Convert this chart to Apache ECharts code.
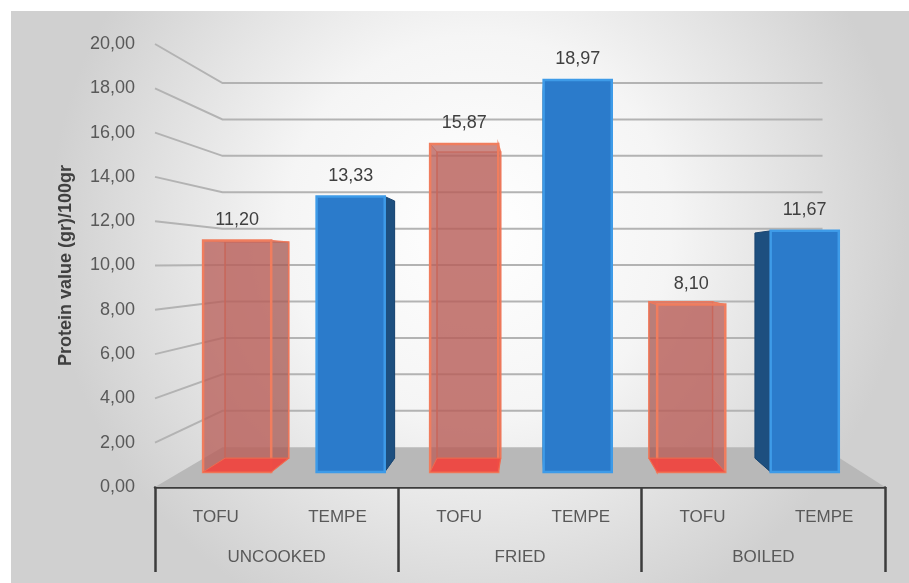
<!DOCTYPE html>
<html>
<head>
<meta charset="utf-8">
<script src="https://cdn.jsdelivr.net/npm/echarts@6/dist/echarts.min.js"></script>
<style>
  html, body { margin: 0; padding: 0; background: #ffffff; }
  #chart { width: 909px; height: 583px; }
</style>
</head>
<body>
<div id="chart"></div>
<script>
// Protein content of tofu and tempe by cooking method
const groups = ['UNCOOKED', 'FRIED', 'BOILED'];
const categories = ['TOFU', 'TEMPE', 'TOFU', 'TEMPE', 'TOFU', 'TEMPE'];
const tofuValues = [11.20, 15.87, 8.10];
const tempeValues = [13.33, 18.97, 11.67];
const yTicks = [0, 2, 4, 6, 8, 10, 12, 14, 16, 18, 20];

const FONT = 'Liberation Sans, Arial, sans-serif';
const fmt = v => v.toFixed(2).replace('.', ',');

// perspective depth factors (1 = front plane)
const S_WALL = 0.822;
const S_BAR_FRONT = 0.933;
const S_BAR_BACK = 0.871;

function vanish(cs) {
  return [cs.x + cs.width / 2 + 14, cs.y + cs.height * 0.495];
}
function proj(vp, x, y, s) {
  return [vp[0] + s * (x - vp[0]), vp[1] + s * (y - vp[1])];
}

// floor and left wall grid lines
function renderWall(params, api) {
  const cs = params.coordSys;
  const vp = vanish(cs);
  const v = api.value(0);
  const y = api.coord([0, v])[1];
  const xl = cs.x, xr = cs.x + cs.width;
  const children = [];
  if (v === 0) {
    children.push({
      type: 'polygon',
      shape: { points: [[xl, y], [xr, y], proj(vp, xr, y, S_WALL), proj(vp, xl, y, S_WALL)] },
      style: { fill: '#b8b8b8' }
    });
  } else {
    children.push({
      type: 'polyline',
      shape: { points: [[xl, y], proj(vp, xl, y, S_WALL), proj(vp, xr, y, S_WALL)] },
      style: { stroke: '#b3b3b3', lineWidth: 2, fill: null }
    });
  }
  return { type: 'group', children: children };
}

function makeBarRenderer(look) {
  return function (params, api) {
    const cs = params.coordSys;
    const vp = vanish(cs);
    const idx = api.value(0), v = api.value(1);
    const base = api.coord([idx, 0]);
    const top = api.coord([idx, v]);
    const w = api.size([1, 0])[0] * 0.6;
    const xl = base[0] - w / 2, xr = base[0] + w / 2;
    const yb = base[1], yt = top[1];
    const P = (x, y, s) => proj(vp, x, y, s);
    const F = { lb: P(xl, yb, S_BAR_FRONT), rb: P(xr, yb, S_BAR_FRONT), rt: P(xr, yt, S_BAR_FRONT), lt: P(xl, yt, S_BAR_FRONT) };
    const B = { lb: P(xl, yb, S_BAR_BACK), rb: P(xr, yb, S_BAR_BACK), rt: P(xr, yt, S_BAR_BACK), lt: P(xl, yt, S_BAR_BACK) };
    const rightVisible = xr < vp[0];
    const topVisible = yt > vp[1];
    const poly = (pts, style) => ({ type: 'polygon', shape: { points: pts }, style: style });
    const faces = {
      back: [B.lb, B.rb, B.rt, B.lt],
      left: [F.lb, B.lb, B.lt, F.lt],
      right: [F.rb, B.rb, B.rt, F.rt],
      top: [F.lt, F.rt, B.rt, B.lt],
      bottom: [F.lb, F.rb, B.rb, B.lb],
      front: [F.lb, F.rb, F.rt, F.lt]
    };
    const sideVis = rightVisible ? 'right' : 'left';
    const sideHid = rightVisible ? 'left' : 'right';
    const children = [];
    children.push(poly(faces.back, look.back));
    children.push(poly(faces[sideHid], look.hidden));
    if (!look.bottomOnTop) children.push(poly(faces.bottom, look.bottom));
    children.push(poly(faces[sideVis], look.side));
    if (topVisible) children.push(poly(faces.top, look.top));
    children.push(poly(faces.front, look.front));
    if (look.bottomOnTop) children.push(poly(faces.bottom, look.bottom));
    children.push({
      type: 'text',
      style: {
        text: fmt(v), x: (F.lt[0] + F.rt[0]) / 2, y: F.lt[1] - 21,
        align: 'center', verticalAlign: 'middle',
        font: '18px ' + FONT, fill: '#404040'
      }
    });
    return { type: 'group', children: children };
  };
}

const tofuLook = {
  bottomOnTop: true,
  back: { fill: 'rgba(185,95,90,0.35)', stroke: 'rgba(240,120,90,0.8)', lineWidth: 1.5 },
  hidden: { fill: 'rgba(185,95,90,0.2)', stroke: 'rgba(240,120,90,0.8)', lineWidth: 1 },
  bottom: { fill: 'rgba(240,72,66,0.92)', stroke: '#f06a50', lineWidth: 1 },
  side: { fill: 'rgba(165,90,85,0.65)', stroke: 'rgba(240,120,90,0.9)', lineWidth: 1.5 },
  top: { fill: 'rgba(200,110,100,0.6)', stroke: 'rgba(240,120,90,0.9)', lineWidth: 1 },
  front: { fill: 'rgba(185,95,90,0.72)', stroke: '#f07d5e', lineWidth: 2.5 }
};
const tempeLook = {
  back: { fill: '#1f5f9e' },
  hidden: { fill: '#1f5f9e' },
  bottom: { fill: '#1f5f9e' },
  side: { fill: '#1d4f7f', stroke: '#1a4570', lineWidth: 1 },
  top: { fill: '#3a8fdc' },
  front: { fill: '#2b7bcb', stroke: '#3e9be8', lineWidth: 2.5 }
};

const chart = echarts.init(document.getElementById('chart'), null, { renderer: 'canvas' });
chart.setOption({
  animation: false,
  backgroundColor: '#ffffff',
  graphic: [{
    type: 'rect', z: -10, silent: true,
    shape: { x: 11, y: 11, width: 898, height: 572 },
    style: {
      fill: {
        type: 'radial', x: 0.52, y: 0.38, r: 0.75,
        colorStops: [
          { offset: 0, color: '#ffffff' },
          { offset: 0.45, color: '#f5f5f5' },
          { offset: 1, color: '#d0d0d0' }
        ]
      }
    }
  }],
  grid: { left: 155, right: 24, top: 44, bottom: 96 },
  xAxis: [
    {
      type: 'category', data: categories, position: 'bottom',
      axisLine: { show: false }, axisTick: { show: false },
      axisLabel: { margin: 22, fontSize: 17, color: '#595959', fontFamily: FONT, interval: 0 }
    },
    {
      type: 'category', data: groups, position: 'bottom',
      axisLine: { show: true, lineStyle: { color: '#3c3c3c', width: 2.5 } },
      axisTick: { show: true, length: 85, lineStyle: { color: '#3c3c3c', width: 2.5 } },
      axisLabel: { margin: 62, fontSize: 17, color: '#595959', fontFamily: FONT }
    }
  ],
  yAxis: {
    type: 'value', min: 0, max: 20, interval: 2,
    name: 'Protein value (gr)/100gr', nameLocation: 'middle', nameGap: 80,
    nameTextStyle: { fontSize: 18, fontWeight: 'bold', color: '#404040', fontFamily: FONT },
    axisLine: { show: false }, axisTick: { show: false }, splitLine: { show: false },
    axisLabel: { margin: 20, fontSize: 18, color: '#595959', fontFamily: FONT, formatter: v => fmt(v) }
  },
  series: [
    {
      type: 'custom', name: 'wall', z: 1, silent: true,
      renderItem: renderWall,
      data: yTicks.map(v => [v])
    },
    {
      type: 'custom', name: 'TOFU', z: 3,
      renderItem: makeBarRenderer(tofuLook),
      data: tofuValues.map((v, i) => [i * 2, v])
    },
    {
      type: 'custom', name: 'TEMPE', z: 3,
      renderItem: makeBarRenderer(tempeLook),
      data: tempeValues.map((v, i) => [i * 2 + 1, v])
    }
  ]
});
</script>
</body>
</html>
